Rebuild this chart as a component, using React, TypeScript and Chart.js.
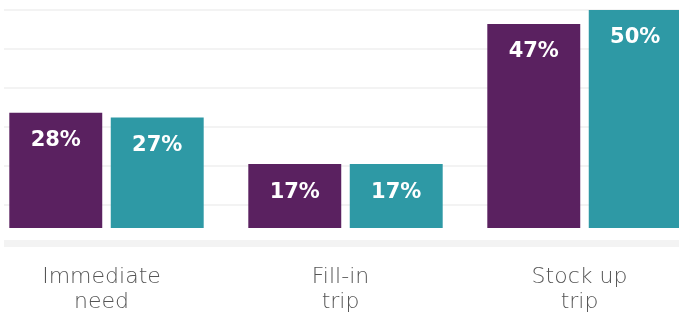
import React, { useEffect, useRef } from "react";
import { Chart, registerables } from "chart.js";

Chart.register(...registerables);

const categories: string[][] = [["Immediate", "need"], ["Fill-in", "trip"], ["Stock up", "trip"]];
const seriesA: number[] = [28, 17, 47];
const seriesB: number[] = [27, 17, 50];
const yMax = 50;
const gridSteps = 6;

const PURPLE = "#5a2160";
const TEAL = "#2e99a5";

const valueLabels = {
  id: "valueLabels",
  afterDatasetsDraw(chart: any) {
    const ctx = chart.ctx;
    ctx.save();
    ctx.fillStyle = "#ffffff";
    ctx.font = "700 21px 'DejaVu Sans', sans-serif";
    ctx.textAlign = "center";
    ctx.textBaseline = "middle";
    chart.data.datasets.forEach((ds: any, i: number) => {
      const meta = chart.getDatasetMeta(i);
      meta.data.forEach((bar: any, j: number) => {
        ctx.fillText(ds.data[j] + "%", bar.x, bar.y + 28);
      });
    });
    ctx.restore();
  },
};

export default function App() {
  const ref = useRef<HTMLCanvasElement | null>(null);
  useEffect(() => {
    if (!ref.current) return;
    const chart = new Chart(ref.current, {
      type: "bar",
      data: {
        labels: categories,
        datasets: [
          { label: "A", data: seriesA, backgroundColor: PURPLE, base: 3.3 } as any,
          { label: "B", data: seriesB, backgroundColor: TEAL, base: 3.3 } as any,
        ],
      },
      options: {
        animation: false,
        responsive: false,
        devicePixelRatio: 1,
        layout: { padding: { top: 10, left: 0, right: 0, bottom: 0 } },
        datasets: { bar: { categoryPercentage: 0.849, barPercentage: 0.916 } },
        plugins: { legend: { display: false }, tooltip: { enabled: false } },
        scales: {
          x: {
            grid: { display: false, drawTicks: false },
            border: { display: false },
            ticks: {
              color: "#555555",
              font: { family: "'DejaVu Sans', sans-serif", size: 22, weight: "200" as any, lineHeight: 1.15 },
              padding: 21,
              labelOffset: -5,
              maxRotation: 0,
              autoSkip: false,
            },
            afterFit(scale: any) {
              scale.height = 72.5;
            },
          },
          y: {
            min: 0,
            max: yMax,
            grid: {
              color: "#f3f3f3",
              lineWidth: (c: any) => (c.tick && c.tick.value === 0 ? 7 : 2),
              drawTicks: false,
            },
            border: { display: false },
            ticks: { display: false },
            afterBuildTicks(scale: any) {
              const t = [];
              for (let i = 0; i <= gridSteps; i++) t.push({ value: (yMax / gridSteps) * i });
              scale.ticks = t;
            },
            afterFit(scale: any) {
              scale.width = 0;
            },
          },
        },
      },
      plugins: [valueLabels],
    });
    return () => chart.destroy();
  }, []);
  return (
    <div style={{ position: "fixed", left: 4, top: 0, width: 675, height: 316, overflow: "hidden", background: "#fff" }}>
      <div style={{ position: "absolute", left: -17, top: 0, width: 717, height: 316 }}>
        <canvas ref={ref} width={717} height={316} style={{ display: "block" }} />
      </div>
    </div>
  );
}
